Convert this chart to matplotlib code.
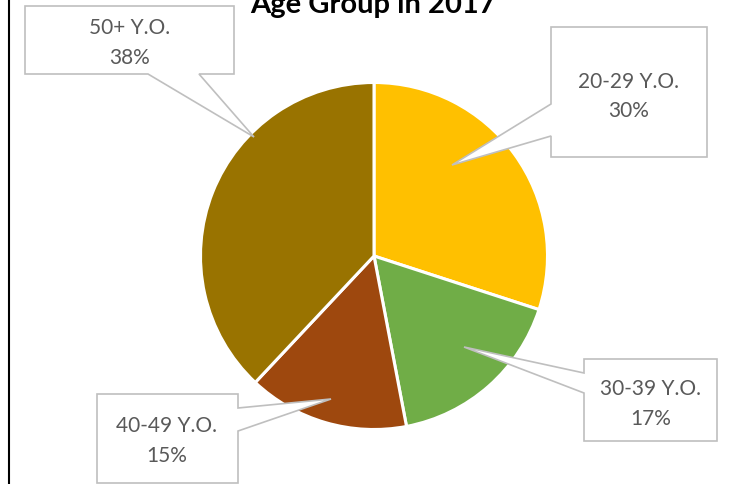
import matplotlib
matplotlib.use("Agg")
import matplotlib.pyplot as plt
from matplotlib.patches import Polygon

# ---- data ----
categories = ["20-29 Y.O.", "30-39 Y.O.", "40-49 Y.O.", "50+ Y.O."]
shares = [30, 17, 15, 38]
title = "Age Group in 2017"

# ---- style ----
colors = ["#FFC000", "#70AD47", "#9E480E", "#997300"]
W, H = 738, 484
FONT = "Lato"

# callout layout (pixel coords, y from top): box (x0, y0, x1, y1), side, base (a, b), tip, text x, baselines
callouts = [
    dict(box=(551, 27, 707, 157), side="left", base=(104, 136), tip=(452, 165), tx=628.5, by=(88, 117)),
    dict(box=(584, 359, 717, 441), side="left", base=(373, 393), tip=(464, 347), tx=650.7, by=(395, 425)),
    dict(box=(97, 394, 238, 483), side="right", base=(408, 431), tip=(331, 399), tx=167, by=(432, 462)),
    dict(box=(25, 6, 234, 74), side="bottom", base=(148, 199), tip=(254, 137), tx=130, by=(34, 64)),
]

fig = plt.figure(figsize=(W / 100, H / 100), dpi=100)
ax = fig.add_axes([0, 0, 1, 1])
ax.set_xlim(0, W)
ax.set_ylim(0, H)
ax.set_aspect("equal")
ax.axis("off")


def fy(y):
    return H - y


ax.pie(shares, colors=colors, startangle=90, counterclock=False,
       center=(374, fy(256)), radius=173.5, frame=True,
       wedgeprops=dict(edgecolor="white", linewidth=2.2))
ax.set_xlim(0, W)
ax.set_ylim(0, H)
ax.axis("off")

for cat, val, c in zip(categories, shares, callouts):
    x0, y0, x1, y1 = c["box"]
    a, b = c["base"]
    tx, ty = c["tip"]
    if c["side"] == "left":
        pts = [(x0, y0), (x1, y0), (x1, y1), (x0, y1), (x0, b), (tx, ty), (x0, a)]
    elif c["side"] == "right":
        pts = [(x0, y0), (x1, y0), (x1, a), (tx, ty), (x1, b), (x1, y1), (x0, y1)]
    else:  # bottom
        pts = [(x0, y0), (x1, y0), (x1, y1), (b, y1), (tx, ty), (a, y1), (x0, y1)]
    poly = Polygon([(px, fy(py)) for px, py in pts], closed=True,
                   facecolor="white", edgecolor="#BFBFBF", linewidth=1.2, zorder=5)
    ax.add_patch(poly)
    ax.text(c["tx"], fy(c["by"][0]), cat, ha="center", va="baseline",
            fontsize=15, color="#595959", family=FONT, zorder=6)
    ax.text(c["tx"], fy(c["by"][1]), f"{val}%", ha="center", va="baseline",
            fontsize=15, color="#595959", family=FONT, zorder=6)

ax.text(373, fy(13), title, ha="center", va="baseline", fontsize=21,
        fontweight="bold", color="black", family=FONT, zorder=6)

# left chart border
ax.plot([8.5, 8.5], [0, H], color="black", linewidth=1.5, zorder=7)

fig.savefig("out.png", dpi=100)
